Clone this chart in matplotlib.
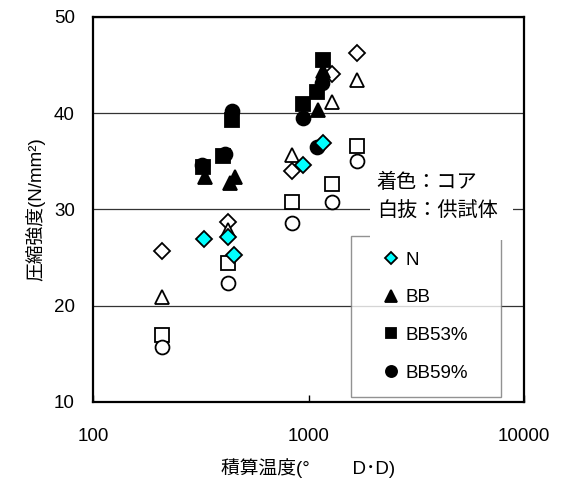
import matplotlib
matplotlib.use("Agg")
import matplotlib.pyplot as plt
from matplotlib.lines import Line2D
from matplotlib.patches import Rectangle

# accumulated temperature of the test specimens (open markers)
specimen_x = [210, 421, 836, 1281, 1674]
specimen_n = [25.7, 28.7, 34.0, 44.1, 46.2]
specimen_bb = [20.9, 27.9, 35.7, 41.2, 43.4]
specimen_bb53 = [17.0, 24.4, 30.8, 32.6, 36.6]
specimen_bb59 = [15.7, 22.4, 28.6, 30.8, 35.0]

# cores (filled markers)
core_n_x = [327, 421, 451, 945, 1171]
core_n = [26.9, 27.1, 25.3, 34.6, 36.9]
core_bb_x = [331, 431, 456, 1110, 1171]
core_bb = [33.4, 32.7, 33.4, 40.3, 44.4]
core_bb53_x = [325, 403, 444, 945, 1092, 1171]
core_bb53 = [34.4, 35.5, 39.3, 41.0, 42.2, 45.5]
core_bb59_x = [319, 410, 444, 945, 1092, 1150]
core_bb59 = [34.6, 35.8, 40.2, 39.5, 36.5, 43.1]

series_names = ["N", "BB", "BB53%", "BB59%"]
x_ticks = [100, 1000, 10000]
y_ticks = [10, 20, 30, 40, 50]

CYAN = "#00FFFF"
FONTS = ["Liberation Sans", "Noto Sans CJK JP"]


def main():
    plt.rcParams["font.family"] = FONTS
    plt.rcParams["font.size"] = 13.5

    fig = plt.figure(figsize=(5.63, 4.82), dpi=100)
    ax = fig.add_axes([0.165, 0.166, 0.766, 0.799])

    ######## markers ########
    styles = {
        "N": dict(marker="D", ms=8.2),
        "BB": dict(marker="^", ms=10),
        "BB53%": dict(marker="s", ms=9.5),
        "BB59%": dict(marker="o", ms=10),
    }

    specimens = [specimen_n, specimen_bb, specimen_bb53, specimen_bb59]
    for name, ys in zip(series_names, specimens):
        ax.plot(specimen_x, ys, ls="none", mfc="white", mec="black",
                mew=1.3, zorder=3, **styles[name])

    cores = [
        ("BB59%", core_bb59_x, core_bb59, "black"),
        ("BB53%", core_bb53_x, core_bb53, "black"),
        ("BB", core_bb_x, core_bb, "black"),
        ("N", core_n_x, core_n, CYAN),
    ]
    for name, xs, ys, fc in cores:
        ax.plot(xs, ys, ls="none", mfc=fc, mec="black", mew=1.3,
                zorder=4, **styles[name])

    ######## axes ########
    ax.set_xscale("log")
    ax.set_xlim(100, 10000)
    ax.set_ylim(10, 50)
    ax.set_xticks(x_ticks)
    ax.set_xticklabels([str(t) for t in x_ticks])
    ax.xaxis.set_minor_locator(matplotlib.ticker.NullLocator())
    ax.set_yticks(y_ticks)
    ax.tick_params(axis="x", direction="in", length=5, width=1, pad=19)
    ax.tick_params(axis="y", length=0, pad=13)
    ax.yaxis.grid(True, color="#333333", lw=0.9)
    for sp in ax.spines.values():
        sp.set_linewidth(1.6)

    ax.set_xlabel("積算温度(°\u3000\u3000 D･D)", labelpad=9)
    ax.set_ylabel("圧縮強度(N/mm²)", labelpad=6)

    ######## legend ########
    handles = []
    for name in series_names:
        fc = CYAN if name == "N" else "black"
        handles.append(Line2D([], [], ls="none", mfc=fc, mec="black",
                              mew=1.3, **styles[name]))
    leg = ax.legend(handles, series_names, loc="upper left",
                    bbox_to_anchor=(0.599, 0.026, 0.348, 0.405),
                    mode="expand", borderaxespad=0,
                    fancybox=False, frameon=True, markerscale=0.8,
                    borderpad=0.82, handlelength=2.6, handletextpad=-0.5,
                    labelspacing=1.1, fontsize=13.5)
    leg.get_frame().set_edgecolor("#777777")
    leg.get_frame().set_linewidth(1.0)
    leg.set_zorder(5)

    ######## note ########
    ax.add_patch(Rectangle((0.643, 0.421), 0.332, 0.195, transform=ax.transAxes,
                           facecolor="white", edgecolor="none", zorder=6))
    ax.text(0.658, 0.571, "着色：コア", transform=ax.transAxes,
            va="center", ha="left", fontsize=14.5, zorder=7)
    ax.text(0.658, 0.494, "白抜：供試体", transform=ax.transAxes,
            va="center", ha="left", fontsize=14.5, zorder=7)

    fig.savefig("out.png", dpi=100)


if __name__ == "__main__":
    main()
